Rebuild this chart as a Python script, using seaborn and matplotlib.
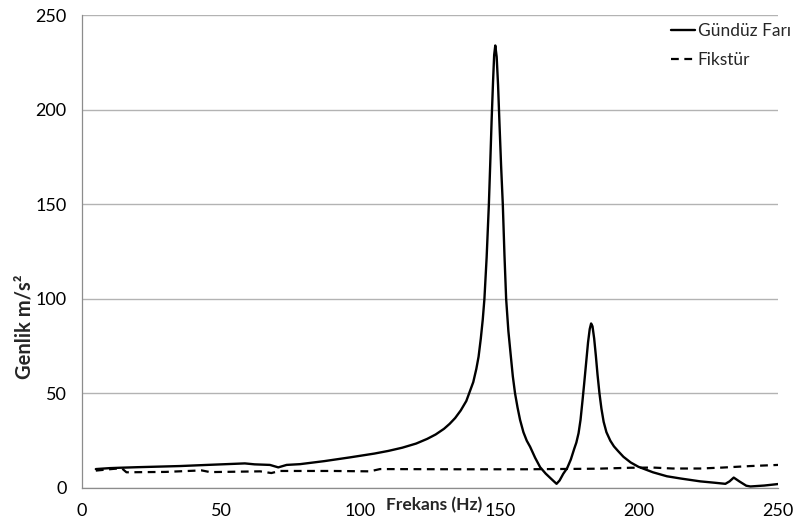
import numpy as np
import pandas as pd
import matplotlib
matplotlib.use("Agg")
import matplotlib.pyplot as plt
import seaborn as sns

# Gündüz Farı (solid) - frequency (Hz) and amplitude (m/s2)
far_freq = [5, 10, 13.6, 20, 35.2, 45, 58.5, 62, 67.5, 70.5, 73.5, 78.3, 87, 96.3,
            105, 110, 115, 120, 124, 127, 130, 132, 134, 136, 138, 139,
            140.5, 141.6, 142.4, 143.2, 143.9, 144.5, 145.3, 145.7, 146.1, 146.6,
            147.1, 147.6, 148.0, 148.4, 148.9, 149.4, 149.9, 150.5, 151.1, 151.7,
            152.3, 153.1, 154.0, 154.7, 155.5, 156.4, 157.3, 158.5, 159.7, 160.9,
            162.7, 164.5, 166.5, 168.5, 170.4,
            171.5, 172.8, 174.2, 175.5, 176.8, 177.5, 178.3, 179, 179.7, 180.3,
            181, 181.7, 182.3, 182.8, 183.3, 183.9, 184.5, 185.1, 185.8, 186.5,
            187.3, 188.3, 189.7, 191, 192.5, 194.4, 197,
            199.8, 205, 210, 215, 222, 227, 231, 232.5, 234, 236, 238.5, 240, 245, 250]
far_amp = [10.0, 10.5, 10.7, 11.0, 11.6, 12.2, 13.0, 12.5, 12.2, 10.9, 12.2, 12.6, 14.2, 16.2,
           18.2, 19.6, 21.3, 23.5, 26, 28.3, 31.3, 33.9, 37, 41, 46, 50,
           56, 63, 69.4, 79, 89, 100, 122, 136, 150, 172,
           195, 215, 229, 234, 228, 213, 193, 170, 150, 123,
           100, 83, 69.4, 59, 50, 42.5, 36, 29.5, 25, 21.8,
           16, 11, 7.6, 4.8, 2.2,
           4.0, 7.5, 10.5, 15, 21, 24, 29, 36, 46, 55,
           66, 77, 84, 87, 85.5, 79, 70, 60, 50, 42,
           35, 29.5, 25, 22, 19.5, 16.5, 13.5,
           11.2, 8.3, 6.2, 5.0, 3.5, 2.8, 2.2, 3.5, 5.5, 3.5, 1.2, 0.8, 1.3, 2.1]

# Fikstür (dashed)
fik_freq = [5, 12, 14.5, 16, 30, 43, 46, 64, 68, 71, 90, 103.4, 107, 135, 160,
            185, 197, 205, 212, 222, 230, 240, 250]
fik_amp = [9.2, 10.2, 10.2, 8.3, 8.5, 9.3, 8.4, 8.8, 7.9, 9.0, 9.0, 8.8, 10.0, 9.9, 9.9,
           10.2, 10.7, 10.8, 10.3, 10.3, 10.8, 11.6, 12.2]

x_ticks = [0, 50, 100, 150, 200, 250]
y_ticks = [0, 50, 100, 150, 200, 250]

sns.set_style("white")
plt.rcParams['font.family'] = ['Lato', 'DejaVu Sans']

far = pd.DataFrame({"freq": far_freq, "amp": far_amp})
fik = pd.DataFrame({"freq": fik_freq, "amp": fik_amp})

fig, ax = plt.subplots(figsize=(7.95, 5.25), dpi=100)
fig.subplots_adjust(left=0.103, right=0.979, top=0.971, bottom=0.0705)

sns.lineplot(data=far, x="freq", y="amp", ax=ax, color="black", lw=1.7,
             label="Gündüz Farı", sort=False)
sns.lineplot(data=fik, x="freq", y="amp", ax=ax, color="black", lw=1.6,
             label="Fikstür", sort=False)
ax.lines[1].set_dashes([3.5, 2.5])

ax.set_xlim(0, 250)
ax.set_ylim(0, 250)
ax.set_xticks(x_ticks)
ax.set_yticks(y_ticks)
ax.tick_params(axis="both", labelsize=13, labelcolor="#000000", length=5,
               width=0.9, direction="out", pad=6, color="#8c8c8c")
ax.yaxis.grid(True, color="#b3b3b3", lw=1.0)
ax.xaxis.grid(False)

for s in ["top", "right"]:
    ax.spines[s].set_visible(False)
for s in ["left", "bottom"]:
    ax.spines[s].set_color("#8c8c8c")
    ax.spines[s].set_linewidth(0.9)

ax.set_xlabel("")
ax.set_ylabel("Genlik m/s²", fontsize=14.5, fontweight="bold")
ax.yaxis.set_label_coords(-0.083, 0.34)
ax.yaxis.label.set_va("center")
ax.text(0.506, -0.036, "Frekans (Hz)", transform=ax.transAxes, ha="center",
        va="center", fontsize=12.5, fontweight="bold")

leg = ax.legend(loc="upper right", bbox_to_anchor=(1.04, 1.016), frameon=False,
                fontsize=12.5, handlelength=1.4, handletextpad=0.15,
                labelspacing=0.75)
leg.get_lines()[1].set_dashes([3.5, 2.5])

fig.savefig("out.png", dpi=100)
